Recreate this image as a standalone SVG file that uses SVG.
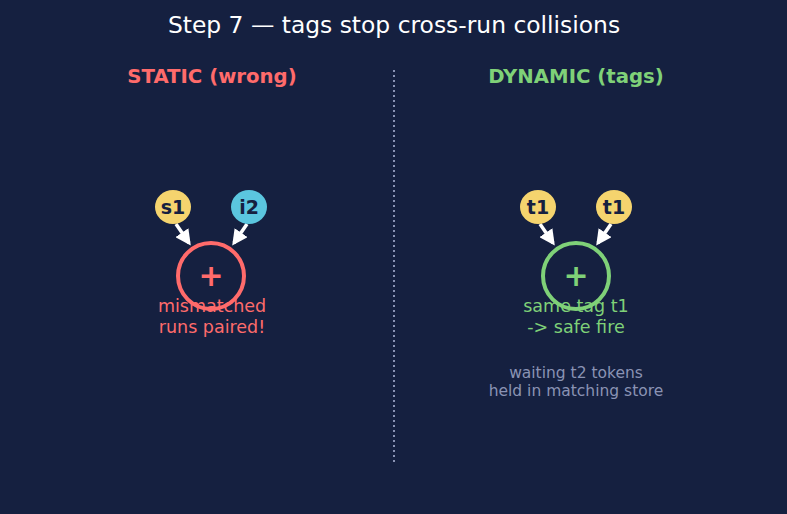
<svg xmlns="http://www.w3.org/2000/svg" width="787" height="514" viewBox="0 0 787 514">
<defs>
<marker id="ah" viewBox="0 0 10 10" refX="8" refY="5" markerWidth="4.5" markerHeight="4.5" orient="auto" markerUnits="strokeWidth">
<path d="M0,0 L10,5 L0,10 z" fill="#ffffff"/>
</marker>
<style>
text{font-family:"DejaVu Sans","Liberation Sans",sans-serif;text-anchor:middle}
.title{font-size:23.4px;fill:#ffffff}
.head{font-size:19.7px;font-weight:bold}
.tok{font-size:19px;font-weight:bold;fill:#152040}
.lbl{font-size:17.5px}
.note{font-size:15.5px;fill:#8a93b4}
.edge{stroke:#ffffff;stroke-width:3.5;fill:none;marker-end:url(#ah)}
.op{fill:none;stroke-width:4}
.opt{font-size:30px;font-weight:bold}
</style>
</defs>
<rect width="787" height="514" fill="#152040"/>
<text class="title" x="394" y="33">Step 7 — tags stop cross-run collisions</text>
<line x1="394" y1="70" x2="394" y2="464" stroke="#8a93b4" stroke-width="2" stroke-dasharray="2 3"/>
<text class="head" x="212" y="83" fill="#ff6b6b">STATIC (wrong)</text>
<text class="head" x="576" y="83" fill="#7fd178">DYNAMIC (tags)</text>
<g id="connectors">
<line class="edge" x1="176" y1="224" x2="189" y2="243"/>
<line class="edge" x1="247" y1="224" x2="234" y2="243"/>
<line class="edge" x1="540" y1="224" x2="553" y2="243"/>
<line class="edge" x1="611" y1="224" x2="598" y2="243"/>
</g>
<g id="static-label">
<text class="lbl" x="212" y="312" fill="#ff6b6b">mismatched</text>
<text class="lbl" x="212" y="333" fill="#ff6b6b">runs paired!</text>
</g>
<g id="dynamic-label">
<text class="lbl" x="576" y="312" fill="#7fd178">same tag t1</text>
<text class="lbl" x="576" y="333" fill="#7fd178">-&gt; safe fire</text>
</g>
<g id="static-op">
<circle class="op" cx="211" cy="276" r="33" stroke="#ff6b6b"/>
<text class="opt" x="211" y="286" fill="#ff6b6b">+</text>
</g>
<g id="dynamic-op">
<circle class="op" cx="576" cy="276" r="33" stroke="#7fd178"/>
<text class="opt" x="576" y="286" fill="#7fd178">+</text>
</g>
<g id="tok-s1">
<ellipse cx="173" cy="207" rx="18" ry="17" fill="#f5d46e"/>
<text class="tok" x="173" y="214">s1</text>
</g>
<g id="tok-i2">
<ellipse cx="249" cy="207" rx="18" ry="17" fill="#5bc6df"/>
<text class="tok" x="249" y="214">i2</text>
</g>
<g id="tok-t1a">
<ellipse cx="538" cy="207" rx="18" ry="17" fill="#f5d46e"/>
<text class="tok" x="538" y="214">t1</text>
</g>
<g id="tok-t1b">
<ellipse cx="614" cy="207" rx="18" ry="17" fill="#f5d46e"/>
<text class="tok" x="614" y="214">t1</text>
</g>
<g id="note">
<text class="note" x="576" y="378">waiting t2 tokens</text>
<text class="note" x="576" y="396">held in matching store</text>
</g>
</svg>
